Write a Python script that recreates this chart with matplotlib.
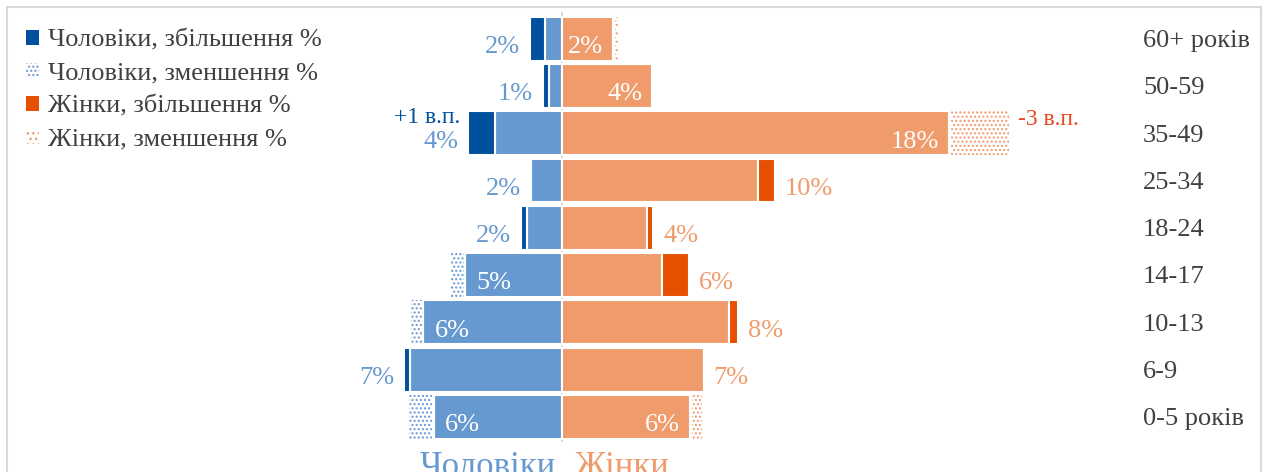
import matplotlib.pyplot as plt
from matplotlib.patches import Patch, Rectangle

plt.rcParams['font.family'] = ['Liberation Serif', 'DejaVu Serif']
plt.rcParams['hatch.linewidth'] = 1.0

# дані (знизу вгору)
categories = ['0-5 років', '6-9', '10-13', '14-17', '18-24', '25-34', '35-49', '50-59', '60+ років']

men_base = [5.95, 7.05, 6.45, 4.5, 1.65, 1.45, 3.1, 0.6, 0.8]
men_inc = [0, 0.3, 0, 0, 0.25, 0, 1.25, 0.3, 0.7]
men_dec = [1.1, 0, 0.5, 0.6, 0, 0, 0, 0, 0]
men_labels = ['6%', '7%', '6%', '5%', '2%', '2%', '4%', '1%', '2%']

women_base = [5.95, 6.6, 7.75, 4.65, 3.95, 9.1, 18.0, 4.2, 2.35]
women_inc = [0, 0, 0.45, 1.25, 0.3, 0.8, 0, 0, 0]
women_dec = [0.45, 0, 0, 0, 0, 0, 2.7, 0, 0.15]
women_labels = ['6%', '7%', '8%', '6%', '4%', '10%', '18%', '4%', '2%']

# де підпис всередині смуги
men_inside = [True, False, True, True, False, False, False, False, False]
women_inside = [True, False, False, False, False, False, True, True, True]

men_note = (6, '+1 в.п.')
women_note = (6, '-3 в.п.')

# кольори
blue_light = '#6699D0'
blue_dark = '#00509D'
orange_light = '#EF9B6C'
orange_dark = '#E65000'
text_grey = '#404040'

fig = plt.figure(figsize=(12.7, 4.72), dpi=100)
ax = fig.add_axes([0, 0, 1, 1])
px = 21.5  # пікселів на 1%
ax.set_xlim(-562 / px, (1270 - 562) / px)
ax.set_ylim(-1.163, 8.816)
ax.axis('off')

y = list(range(len(categories)))
h = 0.93
dots = '....'

# чоловіки (ліворуч)
ax.barh(y, [-v for v in men_base], height=h, color=blue_light, edgecolor='white', linewidth=1.5)
ax.barh(y, [-v for v in men_inc], left=[-v for v in men_base], height=h,
        color=blue_dark, edgecolor='white', linewidth=1.5)
ax.barh(y, [-v for v in men_dec], left=[-v - 0.08 for v in men_base], height=h,
        fill=False, edgecolor=blue_light, linewidth=0, hatch=dots)

# жінки (праворуч)
ax.barh(y, women_base, height=h, color=orange_light, edgecolor='white', linewidth=1.5)
ax.barh(y, women_inc, left=women_base, height=h,
        color=orange_dark, edgecolor='white', linewidth=1.5)
ax.barh(y, women_dec, left=[v + 0.1 for v in women_base], height=h,
        fill=False, edgecolor=orange_light, linewidth=0, hatch=dots)

ax.plot([0, 0], [-0.5, 8.55], color='#D0D0D0', lw=1.2, zorder=0)

# підписи значень
fs = 19
for i in y:
    end_m = men_base[i] + men_inc[i] + men_dec[i]
    if men_inside[i]:
        ax.annotate(men_labels[i], (-men_base[i], i), xytext=(8, -6), textcoords='offset points',
                    ha='left', va='center', color='white', fontsize=fs)
    else:
        ax.annotate(men_labels[i], (-end_m, i), xytext=(-7, -6), textcoords='offset points',
                    ha='right', va='center', color=blue_light, fontsize=fs)

    end_w = women_base[i] + women_inc[i] + women_dec[i]
    if women_inside[i]:
        ax.annotate(women_labels[i], (women_base[i], i), xytext=(-7, -6), textcoords='offset points',
                    ha='right', va='center', color='white', fontsize=fs)
    else:
        ax.annotate(women_labels[i], (end_w, i), xytext=(7, -6), textcoords='offset points',
                    ha='left', va='center', color=orange_light, fontsize=fs)

# примітки про зміну
i = men_note[0]
ax.annotate(men_note[1], (-(men_base[i] + men_inc[i]), i), xytext=(-6, 11), textcoords='offset points',
            ha='right', va='center', color=blue_dark, fontsize=17)
i = women_note[0]
ax.annotate(women_note[1], (women_base[i] + women_dec[i] + 0.1, i), xytext=(6, 10),
            textcoords='offset points', ha='left', va='center', color='#E8461E', fontsize=17)

# вікові групи праворуч
for i, c in enumerate(categories):
    ax.text(1143 / px - 562 / px, i - 0.05, c, ha='left', va='center', color=text_grey, fontsize=19)

# підписи знизу
ax.text(-0.3, -0.72, 'Чоловіки', ha='right', va='top', color=blue_light, fontsize=25)
ax.text(0.6, -0.72, 'Жінки', ha='left', va='top', color=orange_light, fontsize=25)

# легенда
handles = [
    Patch(facecolor=blue_dark, edgecolor='none'),
    Patch(fill=False, edgecolor=blue_light, hatch='....', linewidth=0),
    Patch(facecolor=orange_dark, edgecolor='none'),
    Patch(fill=False, edgecolor=orange_light, hatch='...', linewidth=0),
]
labels = ['Чоловіки, збільшення %', 'Чоловіки, зменшення %',
          'Жінки, збільшення %', 'Жінки, зменшення %']
leg = ax.legend(handles, labels, loc='upper left', bbox_to_anchor=(0.012, 0.96), frameon=False,
                fontsize=19, handlelength=0.5, handleheight=0.5, handletextpad=0.35,
                labelspacing=0.42, labelcolor=text_grey, borderaxespad=0)

# рамка
fig.patches.append(Rectangle((7 / 1270, -0.1), 1254 / 1270, 1.1 - 7 / 472, transform=fig.transFigure,
                             fill=False, edgecolor='#D9D9D9', lw=1.5))

fig.savefig('out.png', dpi=100)
